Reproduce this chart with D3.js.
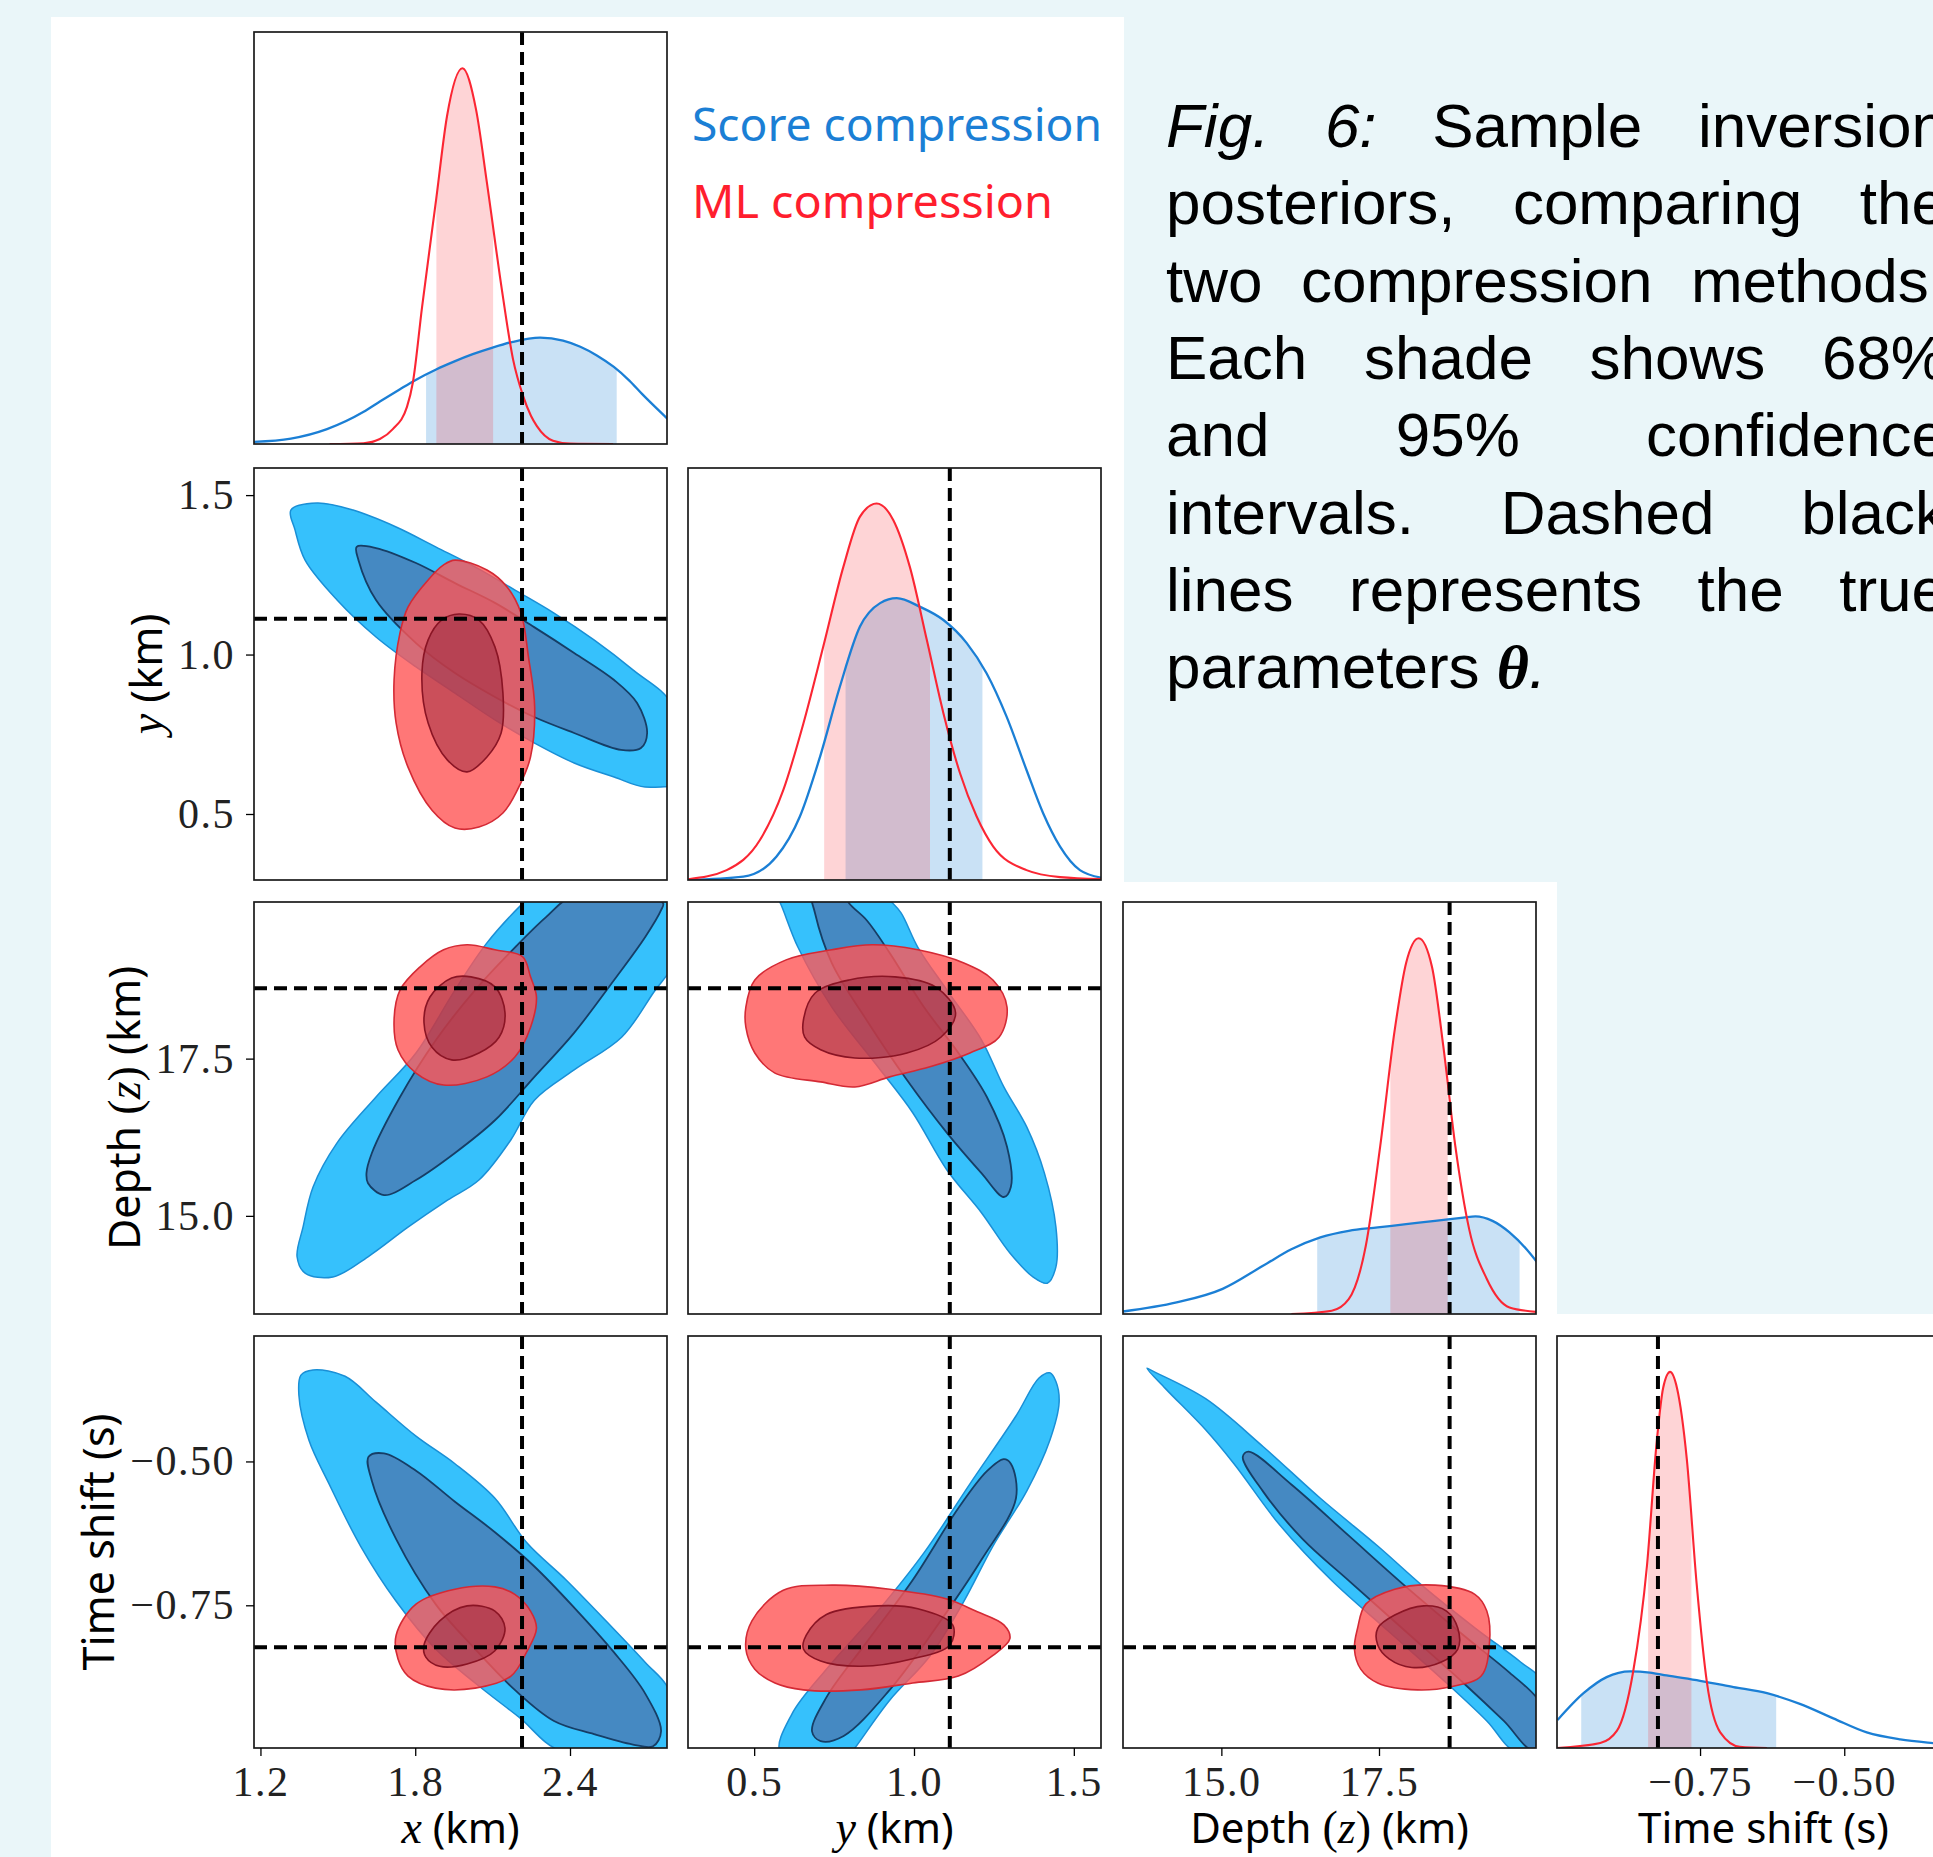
<!DOCTYPE html>
<html>
<head>
<meta charset="utf-8">
<title>Sample inversion posteriors</title>
<script src="https://cdn.jsdelivr.net/npm/d3@7/dist/d3.min.js"></script>
<style>
  html, body { margin: 0; padding: 0; background: #eaf6f9; }
  svg { display: block; }
  text { white-space: pre; }
</style>
</head>
<body>
<div id="chart-area"></div>
<script>
/*
*    Corner plot - score compression vs ML compression posteriors
*/

// ---------- data ----------
var paramLabels = ["$x$ (km)", "$y$ (km)", "Depth $(z)$ (km)", "Time shift (s)"];
var truth = [2.214, 1.112, 18.62, -0.823];
var domains = [[1.175, 2.776], [0.293, 1.585], [13.44, 19.99], [-0.998, -0.282]];
var tickValues = [[1.2, 1.8, 2.4], [0.5, 1.0, 1.5], [15.0, 17.5], [-0.75, -0.50]];
var tickLabels = [["1.2", "1.8", "2.4"], ["0.5", "1.0", "1.5"], ["15.0", "17.5"], ["\u22120.75", "\u22120.50"]];

var legendLabels = ["Score compression", "ML compression"];

var captionLines = [
  "_Fig._ _6:_ Sample inversion",
  "posteriors, comparing the",
  "two compression methods.",
  "Each shade shows 68%",
  "and 95% confidence",
  "intervals. Dashed black",
  "lines represents the true",
  "parameters \u03b8."
];

// 1D marginals: [value, relative density]
var scoreMargX = [[1.171,0.005],[1.318,0.013],[1.458,0.036],[1.600,0.078],[1.663,0.103],[1.741,0.133],[1.800,0.155],[1.881,0.181],[1.950,0.200],[2.023,0.218],[2.100,0.234],[2.179,0.248],[2.284,0.258],[2.373,0.251],[2.440,0.236],[2.504,0.215],[2.570,0.187],[2.630,0.154],[2.680,0.121],[2.730,0.090],[2.780,0.060]];
var mlMargX = [[1.468,0.0],[1.600,0.002],[1.663,0.012],[1.713,0.036],[1.768,0.090],[1.791,0.150],[1.826,0.330],[1.881,0.593],[1.923,0.795],[1.983,0.912],[2.036,0.811],[2.078,0.634],[2.137,0.370],[2.179,0.206],[2.218,0.117],[2.249,0.068],[2.271,0.044],[2.334,0.008],[2.400,0.001],[2.567,0.0]];

var scoreMargY = [[0.294,0.0],[0.466,0.008],[0.570,0.057],[0.643,0.154],[0.706,0.299],[0.768,0.469],[0.831,0.615],[0.894,0.672],[0.946,0.684],[1.019,0.663],[1.092,0.631],[1.165,0.575],[1.227,0.502],[1.290,0.396],[1.352,0.267],[1.404,0.162],[1.457,0.081],[1.519,0.024],[1.590,0.005]];
var mlMargY = [[0.294,0.002],[0.414,0.024],[0.518,0.097],[0.591,0.218],[0.654,0.380],[0.716,0.566],[0.779,0.760],[0.831,0.882],[0.883,0.914],[0.935,0.874],[0.987,0.760],[1.040,0.583],[1.092,0.405],[1.144,0.259],[1.196,0.154],[1.248,0.081],[1.352,0.024],[1.457,0.007],[1.590,0.002]];

var scoreMargZ = [[13.44,0.006],[14.29,0.028],[15.02,0.061],[15.66,0.117],[16.11,0.157],[16.57,0.186],[17.02,0.202],[17.48,0.210],[17.93,0.218],[18.39,0.226],[18.84,0.234],[19.03,0.237],[19.30,0.226],[19.57,0.198],[19.84,0.157],[20.01,0.125]];
var mlMargZ = [[16.11,0.0],[16.75,0.008],[17.02,0.036],[17.29,0.165],[17.52,0.408],[17.75,0.690],[17.93,0.852],[18.13,0.912],[18.34,0.843],[18.52,0.650],[18.71,0.408],[18.93,0.206],[19.21,0.085],[19.57,0.016],[20.01,0.005]];

var scoreMargT = [[-0.997,0.068],[-0.952,0.133],[-0.912,0.172],[-0.871,0.186],[-0.837,0.183],[-0.808,0.176],[-0.750,0.163],[-0.692,0.148],[-0.634,0.133],[-0.577,0.107],[-0.519,0.072],[-0.461,0.038],[-0.403,0.021],[-0.346,0.012],[-0.282,0.005]];
var mlMargT = [[-0.998,0.0],[-0.923,0.012],[-0.894,0.042],[-0.866,0.185],[-0.842,0.443],[-0.825,0.745],[-0.814,0.874],[-0.802,0.913],[-0.790,0.874],[-0.773,0.702],[-0.756,0.400],[-0.738,0.158],[-0.715,0.038],[-0.681,0.003],[-0.634,0.0]];

// shaded intervals [lo, hi]
var scoreBands = [[1.842, 2.581], [0.786, 1.214], [16.52, 19.73], [-0.956, -0.618]];
var mlBands = [[1.882, 2.102], [0.719, 1.050], [17.68, 18.59], [-0.840, -0.765]];

// 2D contours (95% and 68%), points in data units
var scoreXY95 = [[1.318,1.453],[1.419,1.475],[1.559,1.453],[1.726,1.400],[1.881,1.337],[2.032,1.275],[2.187,1.202],[2.338,1.130],[2.493,1.046],[2.644,0.952],[2.796,0.842],[2.827,0.607],[2.691,0.585],[2.571,0.616],[2.416,0.660],[2.261,0.723],[2.109,0.795],[1.954,0.879],[1.803,0.961],[1.648,1.055],[1.497,1.171],[1.373,1.296],[1.334,1.391]];
var scoreXY68 = [[1.573,1.338],[1.648,1.334],[1.803,1.287],[1.954,1.224],[2.109,1.162],[2.261,1.086],[2.416,1.005],[2.571,0.920],[2.660,0.848],[2.699,0.754],[2.675,0.707],[2.598,0.701],[2.416,0.754],[2.261,0.804],[2.109,0.867],[1.954,0.942],[1.803,1.036],[1.648,1.171],[1.580,1.296]];
var mlXY95 = [[1.954,1.296],[2.078,1.265],[2.156,1.212],[2.210,1.130],[2.239,0.992],[2.263,0.836],[2.247,0.679],[2.209,0.597],[2.140,0.503],[2.047,0.459],[1.954,0.456],[1.865,0.512],[1.772,0.647],[1.726,0.785],[1.718,0.920],[1.741,1.068],[1.772,1.149],[1.850,1.234],[1.910,1.281]];
var mlXY68 = [[1.970,1.127],[2.047,1.108],[2.109,1.024],[2.140,0.879],[2.133,0.754],[2.078,0.679],[2.001,0.632],[1.925,0.669],[1.850,0.785],[1.826,0.942],[1.850,1.046],[1.902,1.108]];

var scoreXZ95 = [[1.342,14.35],[1.365,14.82],[1.404,15.46],[1.497,16.16],[1.648,16.89],[1.803,17.59],[1.954,18.59],[2.078,19.34],[2.210,19.94],[2.262,20.13],[2.815,20.13],[2.815,19.12],[2.722,18.54],[2.600,17.84],[2.416,17.32],[2.262,16.84],[2.171,16.21],[2.047,15.57],[1.925,15.25],[1.772,14.82],[1.617,14.35],[1.481,14.03],[1.373,14.09]];
var scoreXZ68 = [[1.617,15.52],[1.679,15.33],[1.803,15.57],[1.954,16.00],[2.109,16.52],[2.262,17.21],[2.416,17.91],[2.571,18.75],[2.691,19.43],[2.753,19.86],[2.761,19.97],[2.644,20.10],[2.416,20.10],[2.307,19.75],[2.187,19.27],[2.032,18.59],[1.881,17.80],[1.741,16.89],[1.632,16.00],[1.611,15.68]];
var mlXZ95 = [[2.001,19.31],[2.109,19.23],[2.216,19.12],[2.247,18.80],[2.270,18.48],[2.247,18.00],[2.187,17.53],[2.078,17.21],[1.910,17.08],[1.803,17.27],[1.733,17.64],[1.718,18.11],[1.741,18.59],[1.819,18.96],[1.910,19.23]];
var mlXZ68 = [[2.016,18.80],[2.109,18.64],[2.148,18.23],[2.125,17.84],[2.047,17.59],[1.941,17.48],[1.865,17.68],[1.834,18.07],[1.857,18.48],[1.941,18.78]];

var scoreYZ95 = [[0.565,20.13],[0.582,19.97],[0.637,19.27],[0.743,18.32],[0.887,17.37],[0.996,16.64],[1.103,15.73],[1.211,15.05],[1.300,14.41],[1.372,14.03],[1.417,13.93],[1.444,14.19],[1.444,14.82],[1.408,15.68],[1.353,16.41],[1.281,17.05],[1.211,17.80],[1.103,18.59],[1.012,19.27],[0.959,19.82],[0.924,20.02],[0.906,20.13]];
var scoreYZ68 = [[0.681,20.15],[0.690,19.82],[0.743,19.02],[0.852,18.11],[0.978,17.16],[1.103,16.32],[1.211,15.68],[1.281,15.30],[1.303,15.46],[1.291,16.10],[1.228,16.89],[1.139,17.59],[1.031,18.32],[0.924,19.18],[0.852,19.70],[0.797,19.97],[0.780,20.15]];
var mlYZ95 = [[0.474,18.32],[0.502,18.75],[0.600,19.07],[0.743,19.23],[0.869,19.31],[1.012,19.23],[1.156,19.02],[1.247,18.75],[1.291,18.32],[1.266,17.84],[1.175,17.59],[1.050,17.37],[0.924,17.21],[0.815,17.05],[0.708,17.13],[0.565,17.27],[0.502,17.59],[0.474,18.00]];
var mlYZ68 = [[0.654,18.11],[0.690,18.54],[0.797,18.75],[0.940,18.80],[1.067,18.64],[1.130,18.23],[1.084,17.84],[0.978,17.59],[0.815,17.51],[0.708,17.64],[0.658,17.84]];

var scoreXT95 = [[1.357,-0.350],[1.404,-0.341],[1.528,-0.352],[1.648,-0.397],[1.803,-0.456],[1.954,-0.504],[2.109,-0.564],[2.232,-0.641],[2.385,-0.706],[2.539,-0.777],[2.691,-0.849],[2.784,-0.897],[2.815,-1.004],[2.369,-1.004],[2.201,-0.944],[2.032,-0.885],[1.879,-0.826],[1.726,-0.743],[1.588,-0.647],[1.466,-0.539],[1.388,-0.463],[1.349,-0.385]];
var scoreXT68 = [[1.619,-0.492],[1.679,-0.486],[1.803,-0.516],[1.954,-0.570],[2.109,-0.623],[2.263,-0.683],[2.416,-0.754],[2.569,-0.831],[2.691,-0.903],[2.753,-0.969],[2.722,-0.995],[2.644,-0.992],[2.493,-0.974],[2.338,-0.951],[2.186,-0.897],[2.032,-0.826],[1.879,-0.748],[1.726,-0.635],[1.632,-0.534]];
var mlXT95 = [[1.726,-0.802],[1.803,-0.748],[1.954,-0.722],[2.109,-0.718],[2.186,-0.731],[2.247,-0.760],[2.270,-0.790],[2.232,-0.831],[2.171,-0.873],[2.032,-0.894],[1.879,-0.894],[1.772,-0.873],[1.733,-0.843]];
var mlXT68 = [[1.834,-0.819],[1.895,-0.777],[2.001,-0.751],[2.109,-0.760],[2.148,-0.790],[2.109,-0.829],[2.001,-0.852],[1.895,-0.856],[1.841,-0.840]];

var scoreYT95 = [[0.582,-1.004],[0.618,-0.939],[0.726,-0.861],[0.887,-0.760],[1.031,-0.659],[1.175,-0.539],[1.319,-0.421],[1.391,-0.355],[1.425,-0.346],[1.444,-0.361],[1.454,-0.397],[1.425,-0.463],[1.353,-0.551],[1.247,-0.647],[1.156,-0.743],[1.050,-0.838],[0.924,-0.915],[0.815,-0.998],[0.797,-1.010]];
var scoreYT68 = [[0.681,-0.969],[0.708,-0.986],[0.780,-0.977],[0.924,-0.897],[1.067,-0.790],[1.211,-0.671],[1.319,-0.564],[1.303,-0.504],[1.281,-0.496],[1.228,-0.517],[1.139,-0.581],[0.996,-0.706],[0.852,-0.814],[0.726,-0.910]];
var mlYT95 = [[0.474,-0.826],[0.493,-0.777],[0.591,-0.724],[0.743,-0.715],[0.924,-0.722],[1.103,-0.739],[1.193,-0.760],[1.281,-0.784],[1.300,-0.808],[1.247,-0.837],[1.139,-0.873],[0.996,-0.885],[0.834,-0.897],[0.654,-0.897],[0.565,-0.885],[0.502,-0.861]];
var mlYT68 = [[0.663,-0.802],[0.726,-0.766],[0.887,-0.751],[1.012,-0.756],[1.121,-0.784],[1.112,-0.819],[0.996,-0.843],[0.834,-0.856],[0.708,-0.847],[0.654,-0.826]];

var scoreZT95 = [[13.93,-0.344],[14.75,-0.391],[15.66,-0.474],[16.57,-0.564],[17.48,-0.647],[18.21,-0.718],[19.03,-0.790],[19.75,-0.849],[20.12,-0.885],[20.30,-1.004],[19.66,-1.004],[19.21,-0.951],[18.57,-0.885],[17.66,-0.796],[16.75,-0.707],[15.93,-0.611],[15.20,-0.504],[14.75,-0.445],[14.11,-0.373],[13.82,-0.338]];
var scoreZT68 = [[15.43,-0.483],[16.11,-0.540],[17.02,-0.629],[17.93,-0.718],[18.84,-0.802],[19.57,-0.867],[20.03,-0.915],[20.21,-0.969],[19.94,-1.001],[19.48,-0.951],[18.84,-0.885],[17.93,-0.796],[17.02,-0.707],[16.29,-0.635],[15.66,-0.552],[15.34,-0.492]];
var mlZT95 = [[17.16,-0.790],[17.29,-0.748],[17.75,-0.722],[18.39,-0.715],[19.02,-0.731],[19.21,-0.760],[19.25,-0.819],[19.12,-0.873],[18.66,-0.891],[18.11,-0.897],[17.48,-0.885],[17.21,-0.861],[17.11,-0.826]];
var mlZT68 = [[17.48,-0.790],[17.75,-0.767],[18.21,-0.751],[18.57,-0.760],[18.75,-0.790],[18.75,-0.826],[18.48,-0.849],[18.02,-0.858],[17.66,-0.843],[17.48,-0.819]];

// ---------- layout ----------
var W = 1933, H = 1857;
var colLeft = [254, 688, 1123, 1557];
var rowTop = [32, 468, 902, 1336];
var cellW = 413, cellH = 412;

var serif = "'Liberation Serif', 'Times New Roman', serif";
var sans = "'Noto Sans', 'DejaVu Sans', sans-serif";
var capFont = "'Liberation Sans', Arial, sans-serif";

var bg = "#eaf6f9";
var scoreLine = "#1b7fd5", mlLine = "#fb2633";

var marginals = [
  {score: scoreMargX, ml: mlMargX},
  {score: scoreMargY, ml: mlMargY},
  {score: scoreMargZ, ml: mlMargZ},
  {score: scoreMargT, ml: mlMargT}
];

var pairs = [
  {r: 1, c: 0, score: [scoreXY95, scoreXY68], ml: [mlXY95, mlXY68]},
  {r: 2, c: 0, score: [scoreXZ95, scoreXZ68], ml: [mlXZ95, mlXZ68]},
  {r: 2, c: 1, score: [scoreYZ95, scoreYZ68], ml: [mlYZ95, mlYZ68]},
  {r: 3, c: 0, score: [scoreXT95, scoreXT68], ml: [mlXT95, mlXT68]},
  {r: 3, c: 1, score: [scoreYT95, scoreYT68], ml: [mlYT95, mlYT68]},
  {r: 3, c: 2, score: [scoreZT95, scoreZT68], ml: [mlZT95, mlZT68]}
];

var svg = d3.select("#chart-area").append("svg")
    .attr("width", W)
    .attr("height", H);

var defs = svg.append("defs");

// poster background, white figure area, caption box
svg.append("rect").attr("width", W).attr("height", H).attr("fill", bg);
svg.append("rect").attr("x", 51).attr("y", 17).attr("width", W - 51).attr("height", H - 17).attr("fill", "#fff");
svg.append("rect").attr("x", 1124).attr("y", 0).attr("width", W - 1124).attr("height", 882).attr("fill", bg);
svg.append("rect").attr("x", 1557).attr("y", 0).attr("width", W - 1557).attr("height", 1314).attr("fill", bg);

var xs = domains.map(function(d, i) {
  return d3.scaleLinear().domain(d).range([colLeft[i], colLeft[i] + cellW]);
});
var ys = domains.map(function(d, i) {
  return d3.scaleLinear().domain(d).range([rowTop[i] + cellH, rowTop[i]]);
});
var dens = domains.map(function(d, i) {
  return d3.scaleLinear().domain([0, 1]).range([rowTop[i] + cellH, rowTop[i]]);
});

function clipFor(r, c) {
  var id = "clip-" + r + "-" + c;
  defs.append("clipPath").attr("id", id).append("rect")
      .attr("x", colLeft[c]).attr("y", rowTop[r])
      .attr("width", cellW).attr("height", cellH);
  return "url(#" + id + ")";
}

// ---------- diagonal: 1D marginals ----------
marginals.forEach(function(m, i) {
  var g = svg.append("g").attr("clip-path", clipFor(i, i));
  var x = xs[i], y = dens[i];

  var area = d3.area()
      .curve(d3.curveMonotoneX)
      .x(function(d) { return x(d[0]); })
      .y0(y(0))
      .y1(function(d) { return y(d[1]); });
  var line = d3.line()
      .curve(d3.curveMonotoneX)
      .x(function(d) { return x(d[0]); })
      .y(function(d) { return y(d[1]); });

  var sets = [
    [m.score, scoreBands[i], "rgba(30,128,214,0.24)"],
    [m.ml, mlBands[i], "rgba(251,38,51,0.2)"]
  ];
  sets.forEach(function(s, k) {
    var id = "band-" + i + "-" + k;
    defs.append("clipPath").attr("id", id).append("rect")
        .attr("x", x(s[1][0])).attr("y", rowTop[i])
        .attr("width", x(s[1][1]) - x(s[1][0])).attr("height", cellH);
    g.append("path").datum(s[0])
        .attr("d", area)
        .attr("fill", s[2])
        .attr("clip-path", "url(#" + id + ")");
  });

  g.append("path").datum(m.score)
      .attr("d", line).attr("fill", "none")
      .attr("stroke", scoreLine).attr("stroke-width", 2.3);
  g.append("path").datum(m.ml)
      .attr("d", line).attr("fill", "none")
      .attr("stroke", mlLine).attr("stroke-width", 2.1);
});

// ---------- off-diagonal: 2D contours ----------
pairs.forEach(function(p) {
  var g = svg.append("g").attr("clip-path", clipFor(p.r, p.c));
  var shape = d3.line()
      .curve(d3.curveCatmullRomClosed.alpha(0.5))
      .x(function(d) { return xs[p.c](d[0]); })
      .y(function(d) { return ys[p.r](d[1]); });

  g.append("path").datum(p.score[0]).attr("d", shape)
      .attr("fill", "#36c1fc").attr("stroke", "#1a8fd6").attr("stroke-width", 1.5);
  g.append("path").datum(p.score[1]).attr("d", shape)
      .attr("fill", "#4589c2").attr("stroke", "#163e66").attr("stroke-width", 1.8);
  g.append("path").datum(p.ml[0]).attr("d", shape)
      .attr("fill", "rgba(255,85,85,0.8)").attr("stroke", "#d42a35").attr("stroke-width", 1.6);
  g.append("path").datum(p.ml[1]).attr("d", shape)
      .attr("fill", "rgba(140,30,55,0.45)").attr("stroke", "#8a1424").attr("stroke-width", 1.6);
});

// ---------- true parameters (dashed) ----------
var dash = svg.append("g")
    .attr("stroke", "#000")
    .attr("stroke-width", 4)
    .attr("stroke-dasharray", "13,7")
    .attr("fill", "none");
for (var r = 0; r < 4; r++) {
  for (var c = 0; c <= r; c++) {
    var vx = xs[c](truth[c]);
    dash.append("line")
        .attr("x1", vx).attr("x2", vx)
        .attr("y1", rowTop[r]).attr("y2", rowTop[r] + cellH);
    if (r > c) {
      var hy = ys[r](truth[r]);
      dash.append("line")
          .attr("x1", colLeft[c]).attr("x2", colLeft[c] + cellW)
          .attr("y1", hy).attr("y2", hy);
    }
  }
}

// ---------- frames ----------
for (var r2 = 0; r2 < 4; r2++) {
  for (var c2 = 0; c2 <= r2; c2++) {
    svg.append("rect")
        .attr("x", colLeft[c2]).attr("y", rowTop[r2])
        .attr("width", cellW).attr("height", cellH)
        .attr("fill", "none").attr("stroke", "#1a1a1a").attr("stroke-width", 1.7);
  }
}

// ---------- axes ----------
function styleAxis(g) {
  g.select(".domain").remove();
  g.attr("font-family", serif).attr("font-size", 42);
  g.selectAll(".tick line").attr("stroke", "#000").attr("stroke-width", 1.3);
  g.selectAll(".tick text").attr("fill", "#222").attr("letter-spacing", 1.5);
}

function addLabel(text, str) {
  str.split("$").forEach(function(part, i) {
    if (!part) return;
    if (i % 2 === 0) {
      text.append("tspan").attr("font-family", sans).text(part);
    } else {
      part.split("").forEach(function(ch) {
        text.append("tspan")
            .attr("font-family", serif)
            .attr("font-size", 46)
            .attr("font-style", /[a-z]/i.test(ch) ? "italic" : "normal")
            .text(ch);
      });
    }
  });
}

domains.forEach(function(d, c) {
  var axisCall = d3.axisBottom(xs[c])
      .tickValues(tickValues[c])
      .tickFormat(function(v, k) { return tickLabels[c][k]; })
      .tickSize(8)
      .tickPadding(10);
  svg.append("g")
      .attr("class", "x axis")
      .attr("transform", "translate(0," + (rowTop[3] + cellH) + ")")
      .call(axisCall)
      .call(styleAxis);

  var xl = svg.append("text")
      .attr("x", colLeft[c] + cellW / 2)
      .attr("y", 1843)
      .attr("text-anchor", "middle")
      .attr("font-size", 42)
      .attr("fill", "#000");
  addLabel(xl, paramLabels[c]);
});

[1, 2, 3].forEach(function(r) {
  var axisCall = d3.axisLeft(ys[r])
      .tickValues(tickValues[r])
      .tickFormat(function(v, k) { return tickLabels[r][k]; })
      .tickSize(8)
      .tickPadding(11);
  var ax = svg.append("g")
      .attr("class", "y axis")
      .attr("transform", "translate(" + colLeft[0] + ",0)")
      .call(axisCall)
      .call(styleAxis);

  var box = ax.node().getBBox();
  var lx = colLeft[0] + box.x - 16;
  var yl = svg.append("text")
      .attr("transform", "translate(" + lx + "," + (rowTop[r] + cellH / 2) + ") rotate(-90)")
      .attr("text-anchor", "middle")
      .attr("font-size", 43)
      .attr("fill", "#000");
  addLabel(yl, paramLabels[r]);
});

// ---------- legend ----------
svg.append("text")
    .attr("x", 692).attr("y", 141)
    .attr("font-family", sans).attr("font-size", 46)
    .attr("textLength", 410).attr("lengthAdjust", "spacingAndGlyphs")
    .attr("fill", scoreLine)
    .text(legendLabels[0]);
svg.append("text")
    .attr("x", 692).attr("y", 218)
    .attr("font-family", sans).attr("font-size", 46)
    .attr("textLength", 361).attr("lengthAdjust", "spacingAndGlyphs")
    .attr("fill", "#ff1e2e")
    .text(legendLabels[1]);

// ---------- caption (justified, runs past the right edge like the poster) ----------
var capLeft = 1166, capWidth = 780, capFirst = 147, capLead = 77.3, capSize = 62;

captionLines.forEach(function(line, li) {
  var y = capFirst + li * capLead;
  var words = line.split(" ");
  var nodes = words.map(function(w) {
    var t = svg.append("text")
        .attr("y", y)
        .attr("font-family", capFont)
        .attr("font-size", capSize)
        .attr("fill", "#000");
    if (w.charAt(0) === "_" && w.charAt(w.length - 1) === "_") {
      t.attr("font-style", "italic").text(w.slice(1, -1));
    } else if (w.indexOf("\u03b8") >= 0) {
      t.append("tspan")
          .attr("font-family", serif)
          .attr("font-style", "italic")
          .attr("font-weight", "bold")
          .text("\u03b8");
      t.append("tspan").attr("font-style", "italic").text(w.replace("\u03b8", ""));
    } else {
      t.text(w);
    }
    return t;
  });
  var widths = nodes.map(function(n) { return n.node().getComputedTextLength(); });
  var total = d3.sum(widths);
  var last = li === captionLines.length - 1;
  var gap = last ? capSize * 0.278 : (capWidth - total) / (words.length - 1);
  var x = capLeft;
  nodes.forEach(function(n, i) {
    n.attr("x", x);
    x += widths[i] + gap;
  });
});
</script>
</body>
</html>
